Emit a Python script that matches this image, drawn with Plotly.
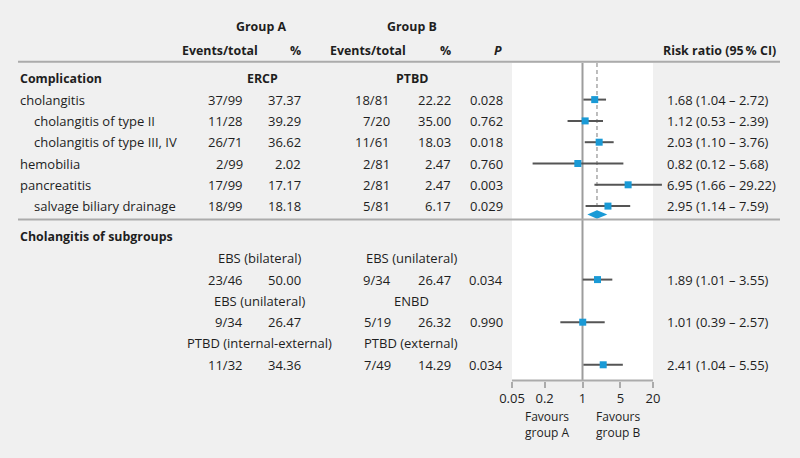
import math
import plotly.graph_objects as go

# ---------------- data ----------------
comp_labels = ["cholangitis", "cholangitis of type II", "cholangitis of type III, IV",
               "hemobilia", "pancreatitis", "salvage biliary drainage"]
comp_indent = [0, 1, 1, 0, 0, 1]
comp_a_events = ["37/99", "11/28", "26/71", "2/99", "17/99", "18/99"]
comp_a_pct = ["37.37", "39.29", "36.62", "2.02", "17.17", "18.18"]
comp_b_events = ["18/81", "7/20", "11/61", "2/81", "2/81", "5/81"]
comp_b_pct = ["22.22", "35.00", "18.03", "2.47", "2.47", "6.17"]
comp_p = ["0.028", "0.762", "0.018", "0.760", "0.003", "0.029"]
comp_rr = [1.68, 1.12, 2.03, 0.82, 6.95, 2.95]
comp_lo = [1.04, 0.53, 1.10, 0.12, 1.66, 1.14]
comp_hi = [2.72, 2.39, 3.76, 5.68, 29.22, 7.59]

pooled_rr, pooled_lo, pooled_hi = 1.85, 1.23, 2.87

sub_a_labels = ["EBS (bilateral)", "EBS (unilateral)", "PTBD (internal-external)"]
sub_b_labels = ["EBS (unilateral)", "ENBD", "PTBD (external)"]
sub_a_events = ["23/46", "9/34", "11/32"]
sub_a_pct = ["50.00", "26.47", "34.36"]
sub_b_events = ["9/34", "5/19", "7/49"]
sub_b_pct = ["26.47", "26.32", "14.29"]
sub_p = ["0.034", "0.990", "0.034"]
sub_rr = [1.89, 1.01, 2.41]
sub_lo = [1.01, 0.39, 1.04]
sub_hi = [3.55, 2.57, 5.55]

tick_vals = [0.05, 0.2, 1, 5, 20]
tick_text = ["0.05", "0.2", "1", "5", "20"]

# ---------------- layout constants ----------------
W, H = 800, 458
PX_LEFT, PX_RIGHT = 512, 653
X_MIN, X_MAX = 0.05, 20
ROW0_PX, ROW_PX = 78.3, 21.3
AXIS_PX = 380.5

ppd = (PX_RIGHT - PX_LEFT) / (math.log10(X_MAX) - math.log10(X_MIN))
x_range = [math.log10(X_MIN) - PX_LEFT / ppd, math.log10(X_MIN) + (W - PX_LEFT) / ppd]
y_range = [(H - ROW0_PX) / ROW_PX, -ROW0_PX / ROW_PX]


def row(p):
    return (p - ROW0_PX) / ROW_PX


BG = "#f0f0f0"
TXT = "#1e1e1e"
BLUE = "#1a9ad6"
GRAY = "#ababab"
FONT = "Open Sans"
BOLD_SIZE = 12.4

comp_rows = [1, 2, 3, 4, 5, 6]
sub_label_rows = [8.45, 10.45, 12.45]
sub_rows = [9.45, 11.45, 13.45]
panel_top = row(63)
axis_row = row(AXIS_PX)

fig = go.Figure()

# white panel
fig.add_trace(go.Scatter(x=[X_MIN, X_MAX, X_MAX, X_MIN, X_MIN],
                         y=[panel_top, panel_top, axis_row, axis_row, panel_top],
                         mode="lines", fill="toself", fillcolor="white",
                         line=dict(width=0, color="white"), hoverinfo="skip"))
# line of no effect
fig.add_trace(go.Scatter(x=[1, 1], y=[panel_top, axis_row], mode="lines",
                         line=dict(color="#9d9d9d", width=2), hoverinfo="skip"))
# pooled dashed line
fig.add_trace(go.Scatter(x=[pooled_rr, pooled_rr], y=[panel_top, 6.2], mode="lines",
                         line=dict(color="#a8a8a8", width=1.5, dash="4px,3px"), hoverinfo="skip"))
# axis line
fig.add_trace(go.Scatter(x=[X_MIN, X_MAX], y=[axis_row, axis_row], mode="lines",
                         line=dict(color=GRAY, width=2), hoverinfo="skip"))

# CI lines
all_rows = comp_rows + sub_rows
all_rr = comp_rr + sub_rr
all_lo = comp_lo + sub_lo
all_hi = comp_hi + sub_hi
cx, cy = [], []
for r, lo, hi in zip(all_rows, all_lo, all_hi):
    cx += [lo, hi, None]
    cy += [r, r, None]
fig.add_trace(go.Scatter(x=cx, y=cy, mode="lines", line=dict(color="#555555", width=2),
                         hoverinfo="skip"))
fig.add_trace(go.Scatter(x=all_rr, y=all_rows, mode="markers",
                         marker=dict(symbol="square", size=7, color=BLUE, line=dict(width=0)),
                         hoverinfo="skip", cliponaxis=False))
# pooled diamond
d_row, d_half = row(214.5), 0.2
fig.add_trace(go.Scatter(x=[pooled_lo, pooled_rr, pooled_hi, pooled_rr, pooled_lo],
                         y=[d_row, d_row - d_half, d_row, d_row + d_half, d_row],
                         mode="lines", fill="toself", fillcolor=BLUE,
                         line=dict(width=0, color=BLUE), hoverinfo="skip"))

annotations = []


def ann(text, xpx, r, anchor="left", bold=False, size=13):
    if bold:
        text = "<b>" + text + "</b>"
        size = BOLD_SIZE
    annotations.append(dict(text=text, x=xpx / W, xref="paper", y=r, yref="y",
                            xanchor=anchor, yanchor="middle", showarrow=False,
                            font=dict(family=FONT, size=size, color=TXT)))


# headers
ann("Group A", 261, row(26), "center", True)
ann("Group B", 412, row(26), "center", True)
ann("Events/total", 260, row(50), "right", True)
ann("%", 303, row(50), "right", True)
ann("Events/total", 408, row(50), "right", True)
ann("%", 453, row(50), "right", True)
ann("<i>P</i>", 504, row(50), "right", True)
ann("Risk ratio (95\u2009% CI)", 778, row(50), "right", True)

ann("Complication", 18, 0, "left", True)
ann("ERCP", 262, 0, "center", True)
ann("PTBD", 412, 0, "center", True)


def rr_text(r, lo, hi):
    return f"{r:.2f} ({lo:.2f} – {hi:.2f})"


for i, r in enumerate(comp_rows):
    ann(comp_labels[i], 18 + 14 * comp_indent[i], r, "left")
    ann(comp_a_events[i], 245, r, "right")
    ann(comp_a_pct[i], 303, r, "right")
    ann(comp_b_events[i], 392, r, "right")
    ann(comp_b_pct[i], 453, r, "right")
    ann(comp_p[i], 505, r, "right")
    ann(rr_text(comp_rr[i], comp_lo[i], comp_hi[i]), 665, r, "left")

ann("Cholangitis of subgroups", 18, 7.45, "left", True)
for i, r in enumerate(sub_rows):
    ann(sub_a_labels[i], 259, sub_label_rows[i], "center")
    ann(sub_b_labels[i], 411, sub_label_rows[i], "center")
    ann(sub_a_events[i], 245, r, "right")
    ann(sub_a_pct[i], 303, r, "right")
    ann(sub_b_events[i], 393, r, "right")
    ann(sub_b_pct[i], 453, r, "right")
    ann(sub_p[i], 505, r, "right")
    ann(rr_text(sub_rr[i], sub_lo[i], sub_hi[i]), 665, r, "left")

ann("Favours<br>group A", 547, row(424.5), "center", size=12)
ann("Favours<br>group B", 618, row(424.5), "center", size=12)

shapes = [
    dict(type="line", xref="paper", yref="y", x0=18 / W, x1=780 / W, y0=row(61.7), y1=row(61.7),
         line=dict(color=GRAY, width=2)),
    dict(type="line", xref="paper", yref="y", x0=18 / W, x1=780 / W, y0=row(219.5), y1=row(219.5),
         line=dict(color=GRAY, width=2)),
]

fig.update_layout(
    width=W, height=H, autosize=False,
    margin=dict(l=0, r=0, t=0, b=0),
    paper_bgcolor=BG, plot_bgcolor=BG,
    showlegend=False, hovermode=False,
    font=dict(family=FONT, size=13, color=TXT),
    annotations=annotations, shapes=shapes,
    xaxis=dict(type="log", range=x_range, domain=[0, 1], anchor="free",
               position=1 - AXIS_PX / H, showline=False, showgrid=False, zeroline=False,
               tickmode="array", tickvals=tick_vals, ticktext=tick_text,
               ticks="outside", ticklen=6, tickwidth=2, tickcolor=GRAY,
               tickfont=dict(family=FONT, size=13, color=TXT), fixedrange=True),
    yaxis=dict(range=y_range, domain=[0, 1], visible=False, fixedrange=True),
)

fig.write_html("out.html", config={"displayModeBar": False},
               post_script="document.body.style.margin='0';document.body.style.background='#f0f0f0';")
